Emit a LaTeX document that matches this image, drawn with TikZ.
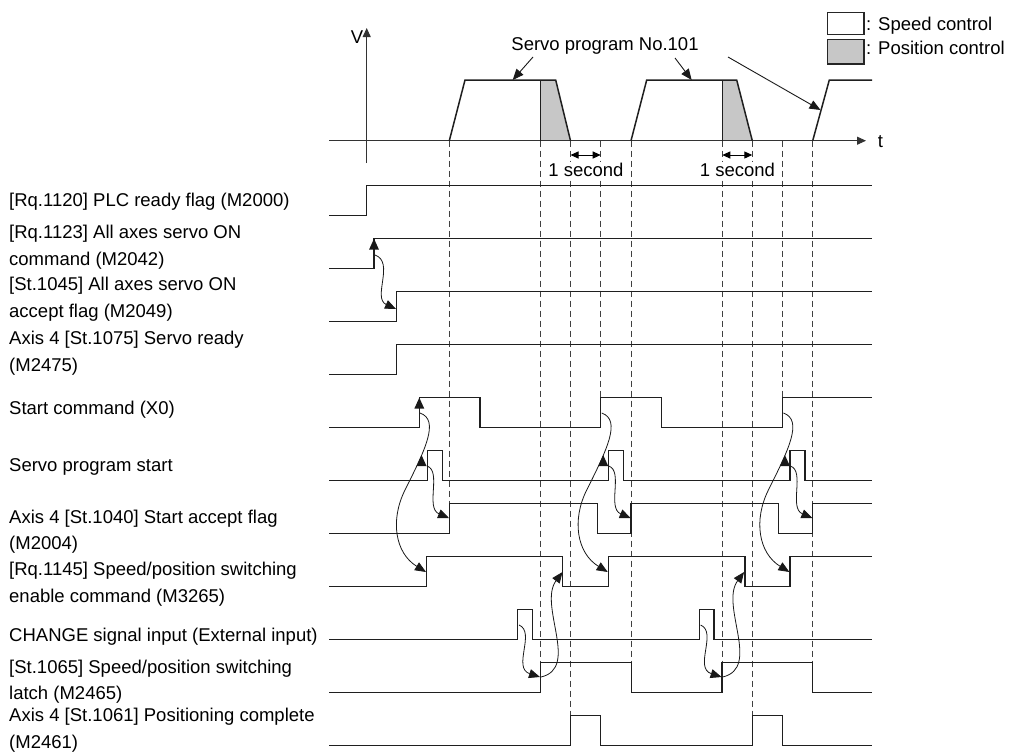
\documentclass[tikz,border=0pt]{standalone}
\usepackage{fontspec}
\setmainfont{Liberation Sans}
\usetikzlibrary{arrows.meta}
\begin{document}
\begin{tikzpicture}[x=1pt,y=-1pt,
  wave/.style={line width=1.5pt, draw=black!88, line join=miter},
  guide/.style={line width=1pt, draw=black!75, dash pattern=on 6pt off 4pt},
  axisline/.style={line width=1pt, draw=black!80, -{Triangle[length=9pt,width=8pt]}},
  causal/.style={line width=0.8pt, draw=black!90, -{Triangle[length=11pt,width=9pt]}},
  pointer/.style={line width=0.9pt, draw=black!90, -{Triangle[length=11pt,width=9pt]}},
  dbl/.style={line width=1pt, {Triangle[length=8pt,width=7pt]}-{Triangle[length=8pt,width=7pt]}},
  lbl/.style={anchor=west, align=left, font=\fontsize{18.5}{26.7}\selectfont, inner sep=0pt},
  txt/.style={font=\fontsize{18.5}{26.7}\selectfont, inner sep=0pt},
  posfill/.style={fill=black!22},
  upmark/.pic={\fill[black!90] (-5,11) -- (0,0) -- (5,11) -- cycle;}
]
\useasboundingbox (0,0) rectangle (1009,753);

% ---------- dashed guide lines ----------
\draw[guide] (449.3,140.7) -- (449.3,503.7);
\draw[guide] (540.7,140.7) -- (540.7,662.7);
\draw[guide] (570.5,140.7) -- (570.5,715.7);
\draw[guide] (600.7,140.7) -- (600.7,397.7);
\draw[guide] (631,140.7) -- (631,662.7);
\draw[guide] (722.3,140.7) -- (722.3,662.7);
\draw[guide] (752.3,140.7) -- (752.3,715.7);
\draw[guide] (782.7,140.7) -- (782.7,397.7);
\draw[guide] (812.7,140.7) -- (812.7,662.7);

% ---------- velocity graph ----------
\fill[posfill] (540.7,80) -- (555.7,80) -- (570.5,140.7) -- (540.7,140.7) -- cycle;
\fill[posfill] (722.3,80) -- (736.7,80) -- (752.3,140.7) -- (722.3,140.7) -- cycle;
\draw[axisline] (366.7,163) -- (366.7,28);
\draw[axisline] (329,140.7) -- (866,140.7);
\node[txt,anchor=base] (vlab) at (357,43) {V};
\node[txt,anchor=base] (tlab) at (880.5,147) {t};
\draw[wave] (540.7,80) -- (540.7,140.7);
\draw[wave] (722.3,80) -- (722.3,140.7);
\draw[wave] (449.3,140.7) -- (465,80) -- (555.7,80) -- (570.5,140.7);
\draw[wave] (631,140.7) -- (646.7,80) -- (736.7,80) -- (752.3,140.7);
\draw[wave] (812.7,140.7) -- (829.3,80) -- (872,80);

\node[txt,anchor=base] (prog) at (605,50) {Servo program No.101};
\coordinate (p1) at (512.7,80);
\coordinate (p2) at (691.7,80);
\coordinate (p3) at (820.5,110);
\draw[pointer] (533,57) -- (p1);
\draw[pointer] (675,58) -- (p2);
\draw[pointer] (728,57) -- (p3);

\node[txt,anchor=base,fill=white,inner xsep=1pt,inner ysep=1pt] (sec1) at (586,176.5) {1 second};
\node[txt,anchor=base,fill=white,inner xsep=1pt,inner ysep=1pt] (sec2) at (737.5,176.5) {1 second};
\draw[dbl] (570.5,155) -- (600.7,155);
\draw[dbl] (722.3,155) -- (752.3,155);

% ---------- legend ----------
\draw[line width=1.2pt, draw=black!85] (827.3,12.3) rectangle (864,34.3);
\draw[line width=1.2pt, draw=black!85, posfill] (827.3,39.3) rectangle (864,64);
\node[txt,anchor=base west] (leg1) at (866,30) {: Speed control};
\node[txt,anchor=base west] (leg2) at (866,54) {: Position control};

% ---------- signal labels ----------
\node[lbl] (l1) at (9,201.7) {[Rq.1120] PLC ready flag (M2000)};
\node[lbl] (l2) at (9,247.5) {[Rq.1123] All axes servo ON\\command (M2042)};
\node[lbl] (l3) at (9,299.3) {[St.1045] All axes servo ON\\accept flag (M2049)};
\node[lbl] (l4) at (9,353.3) {Axis 4 [St.1075] Servo ready\\(M2475)};
\node[lbl] (l5) at (9,410) {Start command (X0)};
\node[lbl] (l6) at (9,467.3) {Servo program start};
\node[lbl] (l7) at (9,531.7) {Axis 4 [St.1040] Start accept flag\\(M2004)};
\node[lbl] (l8) at (9,584.2) {[Rq.1145] Speed/position switching\\enable command (M3265)};
\node[lbl] (l9) at (9,636.7) {CHANGE signal input (External input)};
\node[lbl] (l10) at (9,681.7) {[St.1065] Speed/position switching\\latch (M2465)};
\node[lbl] (l11) at (9,730.3) {Axis 4 [St.1061] Positioning complete\\(M2461)};

% ---------- waveforms ----------
\draw[wave] (329,215.7) -| (366.7,185.7) -- (872,185.7);
\draw[wave] (329,268.7) -| (374,238.7) -- (872,238.7);
\draw[wave] (329,321.7) -| (396.7,291.7) -- (872,291.7);
\draw[wave] (329,374.7) -| (396.7,344.7) -- (872,344.7);
\draw[wave] (329,427.7) -| (419.3,397.7) -| (480,427.7) -| (600.7,397.7) -| (661.5,427.7) -| (782.7,397.7) -- (872,397.7);
\draw[wave] (329,480.7) -| (427.3,450.7) -| (442.3,480.7) -| (608.7,450.7) -| (623.7,480.7) -| (790,450.7) -| (805,480.7) -- (872,480.7);
\draw[wave] (329,533.7) -| (449.3,503.7) -| (597.3,533.7) -| (631,503.7) -| (778.3,533.7) -| (812.7,503.7) -- (872,503.7);
\draw[wave] (329,586.7) -| (426.7,556.7) -| (562.7,586.7) -| (608.7,556.7) -| (745,586.7) -| (790,556.7) -- (872,556.7);
\draw[wave] (329,639.7) -| (517.7,609.7) -| (532.7,639.7) -| (699.3,609.7) -| (714,639.7) -- (872,639.7);
\draw[wave] (329,692.7) -| (540.7,662.7) -| (631.3,692.7) -| (722,662.7) -| (812.7,692.7) -- (872,692.7);
\draw[wave] (329,745.7) -| (570.7,715.7) -| (600.7,745.7) -| (752.3,715.7) -| (782.7,745.7) -- (872,745.7);

% ---------- cause/effect arrows ----------
\pic at (374,238.7) {upmark};
\draw[causal] (375,255) .. controls (395,262) and (372,298) .. (396,309);

\pic at (419.3,397.7) {upmark};

\foreach \s in {0,181.7,363.4} {
  \begin{scope}[xshift=\s pt]
    \draw[causal] (420,413) .. controls (440,420) and (425,450) .. (405,490)
                  .. controls (390,520) and (395,553) .. (426,572);
    \pic at (421.5,455) {upmark};
    \draw[causal] (427,466) .. controls (442,471) and (425,508) .. (449,518);
  \end{scope}
}
\foreach \s in {0,181.6} {
  \begin{scope}[xshift=\s pt]
    \draw[causal] (519,625) .. controls (536,632) and (512,668) .. (540,677);
    \draw[causal] (541,677) .. controls (580,668) and (538,605) .. (562.5,572);
  \end{scope}
}
\end{tikzpicture}
\end{document}
